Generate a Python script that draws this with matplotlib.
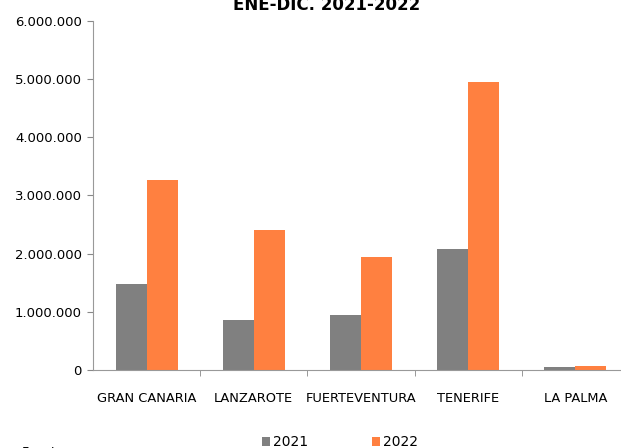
import matplotlib.pyplot as plt
import numpy as np
from matplotlib.ticker import FuncFormatter

# data
islands = ['GRAN CANARIA', 'LANZAROTE', 'FUERTEVENTURA', 'TENERIFE', 'LA PALMA']
v2021 = [1478000, 860000, 945000, 2080000, 45000]
v2022 = [3265000, 2405000, 1940000, 4950000, 75000]
years = ['2021', '2022']
colors = ['#808080', '#FF8040']

plt.rcParams['font.family'] = ['DejaVu Sans']

fig = plt.figure(figsize=(6.21, 4.48), dpi=100)
ax = fig.add_axes([93 / 621, 1 - 370 / 448, 536 / 621, 349 / 448])

x = np.arange(len(islands))
w = 0.29
ax.bar(x - w / 2, v2021, w, color=colors[0], label=years[0])
ax.bar(x + w / 2, v2022, w, color=colors[1], label=years[1])

# axis
ax.set_xlim(-0.5, len(islands) - 0.5)
ax.set_ylim(0, 6000000)
ax.set_yticks(np.arange(0, 6000001, 1000000))
ax.yaxis.set_major_formatter(FuncFormatter(lambda v, p: f'{int(v):,}'.replace(',', '.')))
ax.set_xticks(x)
ax.set_xticklabels(islands, fontsize=9.4)
ax.set_xticks(np.arange(0.5, len(islands) - 0.5, 1), minor=True)
ax.tick_params(axis='x', which='major', length=0, pad=16)
ax.tick_params(axis='x', which='minor', length=4, color='#888888', direction='out')
ax.tick_params(axis='y', length=4, color='#888888', labelsize=9.5, pad=4)

for s in ['top', 'right']:
    ax.spines[s].set_visible(False)
for s in ['left', 'bottom']:
    ax.spines[s].set_color('#999999')

# title
fig.text(327 / 621, 1 - 5 / 448, 'ENE-DIC. 2021-2022', ha='center', va='center',
         fontsize=12, fontweight='bold')

# legend
fig.legend(loc='center', bbox_to_anchor=(340 / 621, 1 - 442 / 448), ncol=2,
           frameon=False, fontsize=10, handlelength=0.6, handleheight=0.6,
           handletextpad=0.2, columnspacing=4.6)

fig.text(22 / 621, 1 - 452 / 448, 'Fuente:', ha='left', va='center', fontsize=9)

fig.savefig('out.png', dpi=100)
